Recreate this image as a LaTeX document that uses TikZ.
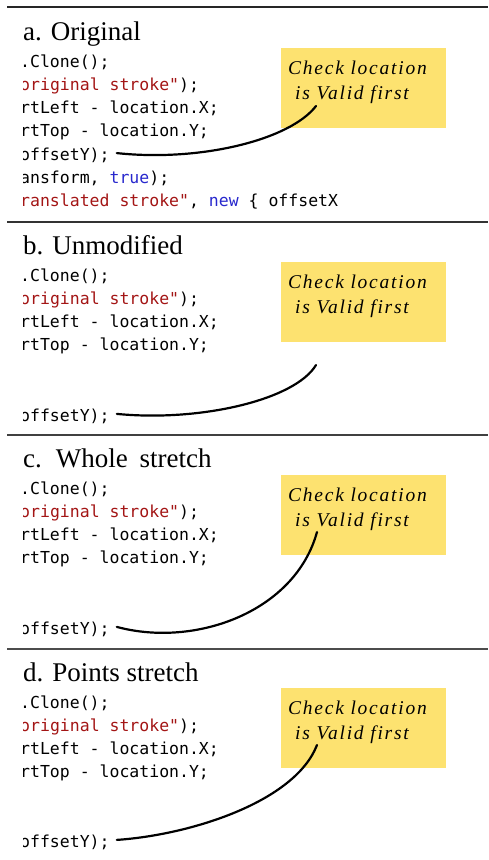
\documentclass[tikz,border=0pt]{standalone}
\usepackage{fontspec}
\setmainfont{Liberation Serif}
\newfontfamily\codefont{DejaVu Sans Mono}
\newfontfamily\handfont[LetterSpace=9]{Liberation Serif Italic}
\definecolor{strred}{RGB}{163,21,21}
\definecolor{kwblue}{RGB}{40,40,205}
\definecolor{stickyyellow}{RGB}{253,226,112}

\begin{document}
\begin{tikzpicture}[x=1pt,y=-1pt,
		paneltitle/.style={anchor=base west,inner sep=0,font=\fontsize{27}{27}\selectfont},
		codeline/.style={anchor=base west,inner sep=0,font=\codefont\fontsize{16.5}{16.5}\selectfont},
		stickynote/.style={fill=stickyyellow,minimum width=165pt,minimum height=80pt,inner sep=0,anchor=north west},
		hand/.style={anchor=base west,inner sep=0,font=\handfont\fontsize{19.5}{19.5}\selectfont},
		ink/.style={line width=2.2pt,line cap=round},
		rule/.style={line width=2pt}]
		\useasboundingbox (0,0) rectangle (488,860);
		% a. Original
		\draw[rule,black!85] (7,7) -- (488,7);
		\node[paneltitle] (titlea) at (23,40) {a. Original};
		\begin{scope}
			\clip (23,10) rectangle (488,216);
			\node[codeline] (a1) at (20,67) {.Clone();};
			\node[codeline] (a2) at (10.1,90.3) {\textcolor{strred}{"original stroke"});};
			\node[codeline] (a3) at (20,113.6) {rtLeft - location.X;};
			\node[codeline] (a4) at (20,136.9) {rtTop - location.Y;};
			\node[codeline] (offa) at (20,160.2) {offsetY);};
			\node[codeline] (a6) at (20,183.5) {ansform, \textcolor{kwblue}{true});};
			\node[codeline] (a7) at (20,206.8) {\textcolor{strred}{ranslated stroke"}, \textcolor{kwblue}{new} \{ offsetX};
		\end{scope}
		\node[stickynote] (notea) at (281,48) {};
		\node[hand] (handa1) at (288,74) {Check location};
		\node[hand] (handa2) at (295,99) {is Valid first};
		\coordinate (enda) at (316,106);
		\draw[ink] ([xshift=7pt,yshift=2pt]offa.east) .. controls (200,162) and (290,140) .. (enda);
		% b. Unmodified
		\begin{scope}[yshift=-214pt]
			\draw[rule,black!80] (7,7.5) -- (488,7.5);
			\node[paneltitle] (titleb) at (23,40) {b. Unmodified};
			\begin{scope}
				\clip (23,10) rectangle (488,216);
				\node[codeline] (b1) at (20,67) {.Clone();};
				\node[codeline] (b2) at (10.1,90.3) {\textcolor{strred}{"original stroke"});};
				\node[codeline] (b3) at (20,113.6) {rtLeft - location.X;};
				\node[codeline] (b4) at (20,136.9) {rtTop - location.Y;};
				\node[codeline] (offb) at (20,207) {offsetY);};
			\end{scope}
			\node[stickynote] (noteb) at (281,48) {};
			\node[hand] (handb1) at (288,74) {Check location};
			\node[hand] (handb2) at (295,99) {is Valid first};
			\coordinate (endb) at (316,151);
			\draw[ink] ([xshift=7pt,yshift=2pt]offb.east) .. controls (200,208) and (295,186) .. (endb);
		\end{scope}
		% c. Whole stretch
		\begin{scope}[yshift=-427pt]
			\draw[rule,black!75] (7,8) -- (488,8);
			\node[paneltitle] (titlec) at (23,40) {c.\hspace{5pt} Whole\hspace{5pt} stretch};
			\begin{scope}
				\clip (23,10) rectangle (488,216);
				\node[codeline] (c1) at (20,67) {.Clone();};
				\node[codeline] (c2) at (10.1,90.3) {\textcolor{strred}{"original stroke"});};
				\node[codeline] (c3) at (20,113.6) {rtLeft - location.X;};
				\node[codeline] (c4) at (20,136.9) {rtTop - location.Y;};
				\node[codeline] (offc) at (20,207) {offsetY);};
			\end{scope}
			\node[stickynote] (notec) at (281,48) {};
			\node[hand] (handc1) at (288,74) {Check location};
			\node[hand] (handc2) at (295,99) {is Valid first};
			\coordinate (endc) at (317,105);
			\draw[ink] ([xshift=7pt,yshift=2pt]offc.east) .. controls (195,221) and (295,185) .. (endc);
		\end{scope}
		% d. Points stretch
		\begin{scope}[yshift=-641pt]
			\draw[rule,black!70] (7,8) -- (488,8);
			\node[paneltitle] (titled) at (23,40) {d. Points stretch};
			\begin{scope}
				\clip (23,10) rectangle (488,216);
				\node[codeline] (d1) at (20,67) {.Clone();};
				\node[codeline] (d2) at (10.1,90.3) {\textcolor{strred}{"original stroke"});};
				\node[codeline] (d3) at (20,113.6) {rtLeft - location.X;};
				\node[codeline] (d4) at (20,136.9) {rtTop - location.Y;};
				\node[codeline] (offd) at (20,206) {offsetY);};
			\end{scope}
			\node[stickynote] (noted) at (281,47) {};
			\node[hand] (handd1) at (288,73) {Check location};
			\node[hand] (handd2) at (295,98) {is Valid first};
			\coordinate (endd) at (317,104);
			\draw[ink] ([xshift=7pt,yshift=2pt]offd.east) .. controls (190,194) and (295,161) .. (endd);
		\end{scope}
	\end{tikzpicture}
\end{document}
